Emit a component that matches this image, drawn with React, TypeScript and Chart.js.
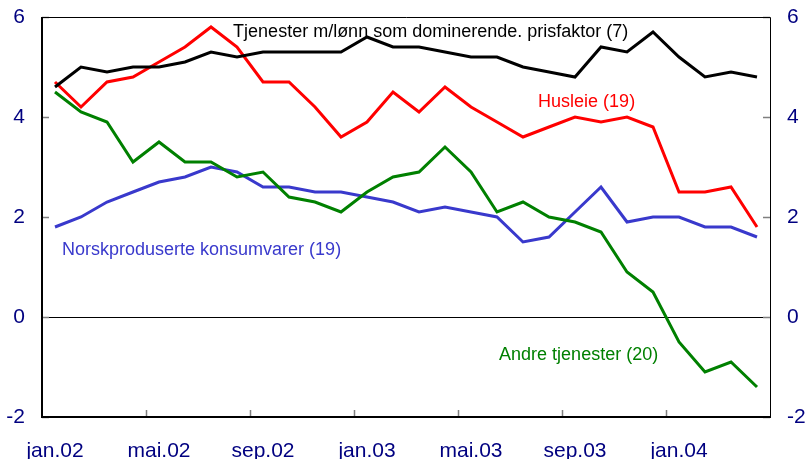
import React, { useEffect, useRef } from "react";
import { Chart, registerables } from "chart.js";

Chart.register(...registerables);

const months = [
  "jan.02", "feb.02", "mar.02", "apr.02", "mai.02", "jun.02", "jul.02", "aug.02", "sep.02", "okt.02", "nov.02", "des.02",
  "jan.03", "feb.03", "mar.03", "apr.03", "mai.03", "jun.03", "jul.03", "aug.03", "sep.03", "okt.03", "nov.03", "des.03",
  "jan.04", "feb.04", "mar.04", "apr.04",
];

const tjenesterLonn = [4.6, 5.0, 4.9, 5.0, 5.0, 5.1, 5.3, 5.2, 5.3, 5.3, 5.3, 5.3, 5.6, 5.4, 5.4, 5.3, 5.2, 5.2, 5.0, 4.9, 4.8, 5.4, 5.3, 5.7, 5.2, 4.8, 4.9, 4.8];
const husleie = [4.7, 4.2, 4.7, 4.8, 5.1, 5.4, 5.8, 5.4, 4.7, 4.7, 4.2, 3.6, 3.9, 4.5, 4.1, 4.6, 4.2, 3.9, 3.6, 3.8, 4.0, 3.9, 4.0, 3.8, 2.5, 2.5, 2.6, 1.8];
const andreTjenester = [4.5, 4.1, 3.9, 3.1, 3.5, 3.1, 3.1, 2.8, 2.9, 2.4, 2.3, 2.1, 2.5, 2.8, 2.9, 3.4, 2.9, 2.1, 2.3, 2.0, 1.9, 1.7, 0.9, 0.5, -0.5, -1.1, -0.9, -1.4];
const norskprodusert = [1.8, 2.0, 2.3, 2.5, 2.7, 2.8, 3.0, 2.9, 2.6, 2.6, 2.5, 2.5, 2.4, 2.3, 2.1, 2.2, 2.1, 2.0, 1.5, 1.6, 2.1, 2.6, 1.9, 2.0, 2.0, 1.8, 1.8, 1.6];

const yTicks = [-2, 0, 2, 4, 6];

const labels = [
  { text: "Tjenester m/lønn som dominerende. prisfaktor (7)", x: 6.85, y: 5.7, color: "#000000" },
  { text: "Husleie (19)", x: 18.58, y: 4.3, color: "#ff0000" },
  { text: "Norskproduserte konsumvarer (19)", x: 0.27, y: 1.34, color: "#3939cc" },
  { text: "Andre tjenester (20)", x: 17.08, y: -0.76, color: "#008000" },
];

const FONT = "'Liberation Sans', Arial, sans-serif";
const NAVY = "#000080";

export default function App() {
  const ref = useRef<HTMLCanvasElement | null>(null);

  useEffect(() => {
    if (!ref.current) return;

    const decor = {
      id: "decor",
      beforeDatasetsDraw(chart: any) {
        const { ctx } = chart;
        const xs = chart.scales.x;
        const ys = chart.scales.y;
        ctx.save();
        ctx.font = `18px ${FONT}`;
        ctx.textAlign = "left";
        ctx.textBaseline = "middle";
        for (const l of labels) {
          ctx.fillStyle = l.color;
          ctx.fillText(l.text, xs.getPixelForValue(l.x), ys.getPixelForValue(l.y));
        }
        ctx.restore();
      },
      afterDraw(chart: any) {
        const { ctx, chartArea } = chart;
        const { left, right, top, bottom } = chartArea;
        const xs = chart.scales.x;
        const ys = chart.scales.y;
        ctx.save();
        ctx.strokeStyle = "#808080";
        ctx.lineWidth = 1.5;
        ctx.beginPath();
        for (let i = 4; i < months.length; i += 4) {
          const px = Math.round((xs.getPixelForValue(i - 1) + xs.getPixelForValue(i)) / 2) + 0.5;
          ctx.moveTo(px, bottom);
          ctx.lineTo(px, bottom - 7);
        }
        for (const v of yTicks) {
          const py = Math.round(ys.getPixelForValue(v)) + 0.5;
          ctx.moveTo(left, py);
          ctx.lineTo(left + 7, py);
          ctx.moveTo(right, py);
          ctx.lineTo(right - 7, py);
        }
        ctx.stroke();
        ctx.strokeStyle = "#000000";
        ctx.lineWidth = 1;
        ctx.beginPath();
        ctx.moveTo(left, top + 0.5);
        ctx.lineTo(right + 0.5, top + 0.5);
        ctx.lineTo(right + 0.5, bottom);
        ctx.stroke();
        ctx.lineWidth = 2;
        ctx.beginPath();
        ctx.moveTo(left, top);
        ctx.lineTo(left, bottom);
        ctx.lineTo(right + 1, bottom);
        ctx.stroke();
        ctx.restore();
      },
    };

    const line = (data: number[], color: string) => ({
      data,
      borderColor: color,
      backgroundColor: color,
      borderWidth: 3,
      pointRadius: 0,
      tension: 0,
      fill: false,
    });

    const fitY = (w: number) => (s: any) => {
      s.width = w;
      s.paddingTop = 0;
      s.paddingBottom = 0;
    };

    const chart = new Chart(ref.current, {
      type: "line",
      data: {
        labels: months,
        datasets: [
          line(tjenesterLonn, "#000000"),
          line(husleie, "#ff0000"),
          line(andreTjenester, "#008000"),
          line(norskprodusert, "#3939cc"),
        ],
      },
      plugins: [decor],
      options: {
        animation: false,
        responsive: false,
        layout: { padding: { top: 17, left: 0, right: 0, bottom: 0 } },
        plugins: { legend: { display: false }, tooltip: { enabled: false } },
        scales: {
          x: {
            type: "category",
            offset: true,
            grid: { display: false },
            border: { display: false },
            ticks: {
              autoSkip: false,
              maxRotation: 0,
              padding: 14,
              color: NAVY,
              font: { family: FONT, size: 21 },
              callback: (_v: any, i: number) => (i % 4 === 0 ? months[i] : ""),
            },
            afterFit: (s: any) => {
              s.height = 42;
              s.paddingLeft = 0;
              s.paddingRight = 0;
            },
          },
          y: {
            position: "left",
            min: -2,
            max: 6,
            grid: {
              drawTicks: false,
              color: (c: any) => (c.tick && c.tick.value === 0 ? "#000000" : "rgba(0,0,0,0)"),
              lineWidth: 1,
            },
            border: { display: false },
            ticks: { stepSize: 2, padding: 17, color: NAVY, font: { family: FONT, size: 21 } },
            afterFit: fitY(42),
          },
          y2: {
            position: "right",
            display: true,
            min: -2,
            max: 6,
            grid: { display: false, drawTicks: false },
            border: { display: false },
            ticks: { stepSize: 2, padding: 17, color: NAVY, font: { family: FONT, size: 21 } },
            afterFit: fitY(37),
          },
        },
      },
    } as any);

    return () => chart.destroy();
  }, []);

  return (
    <div style={{ position: "absolute", left: 0, top: 0, width: 807, height: 459 }}>
      <canvas ref={ref} width={807} height={459} />
    </div>
  );
}
